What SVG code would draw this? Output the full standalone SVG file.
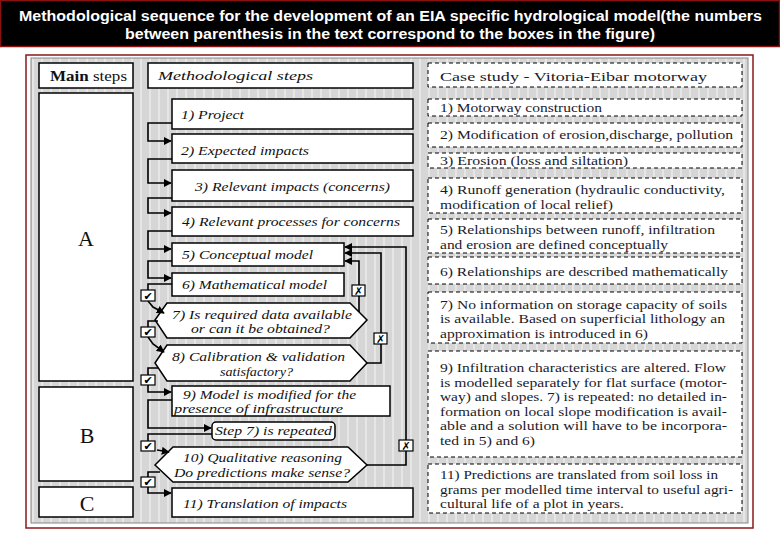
<svg xmlns="http://www.w3.org/2000/svg" width="780" height="540" viewBox="0 0 780 540">
<style>
.ttl{font-family:"Liberation Sans",Arial,sans-serif;font-weight:bold;font-size:14.5px;fill:#fff}
.box{fill:#fff;stroke:#000;stroke-width:1.5}
.dbox{fill:#fff;stroke:#000;stroke-width:1;stroke-dasharray:4 3}
.it{font-family:"Liberation Serif","Times New Roman",serif;font-style:italic;font-size:13px;fill:#111}
.rt{font-family:"Liberation Serif","Times New Roman",serif;font-size:13px;fill:#1a1a2a}
.big{font-family:"Liberation Serif","Times New Roman",serif;font-size:22px;fill:#111;text-anchor:middle}
.con{fill:none;stroke:#000;stroke-width:1.6}
.cb{fill:#fff;stroke:#000;stroke-width:1.2}
.mk{font-family:"DejaVu Sans",sans-serif;font-size:11px;font-weight:bold;fill:#000;text-anchor:middle}
</style>
<defs>
<marker id="ah" viewBox="0 0 10 10" refX="9" refY="5" markerWidth="8" markerHeight="8" markerUnits="userSpaceOnUse" orient="auto"><path d="M0,0 L10,5 L0,10 Z" fill="#000"/></marker>
<pattern id="stripes" width="9" height="40" patternUnits="userSpaceOnUse"><rect width="9" height="40" fill="#d6d6d6"/><rect x="5" width="2" height="40" fill="#e6e6e6"/></pattern>
</defs>
<rect width="780" height="540" fill="#fff"/>
<g id="title">
<rect x="0.5" y="0.5" width="779" height="46" fill="#000" stroke="#8b1010" stroke-width="1.5"/>
<text class="ttl" x="19" y="21" textLength="743" lengthAdjust="spacingAndGlyphs">Methodological sequence for the development of an EIA specific hydrological model(the numbers</text>
<text class="ttl" x="125" y="39" textLength="530" lengthAdjust="spacingAndGlyphs">between parenthesis in the text correspond to the boxes in the figure)</text>
</g>
<g id="panel">
<rect x="26" y="55" width="727" height="473" fill="#fff" stroke="#8b1a1a" stroke-width="1.5"/>
<rect x="31" y="58" width="717" height="465" fill="url(#stripes)" stroke="#888" stroke-width="1"/>
</g>
<g id="main-steps">
<rect class="box" x="39" y="63" width="94" height="25"/>
<text x="50" y="81" font-family="Liberation Serif,serif" font-size="15" fill="#111" textLength="77" lengthAdjust="spacingAndGlyphs"><tspan font-weight="bold">Main</tspan> steps</text>
</g>
<g id="step-A"><rect class="box" x="39" y="93" width="94" height="288"/><text class="big" x="86" y="246">A</text></g>
<g id="step-B"><rect class="box" x="39" y="387" width="94" height="94"/><text class="big" x="87" y="443">B</text></g>
<g id="step-C"><rect class="box" x="39" y="487" width="94" height="30"/><text class="big" x="87" y="511">C</text></g>
<g id="meth-header"><rect class="box" x="148" y="63" width="265" height="25"/><text class="it" x="158" y="80" font-size="15" textLength="155" lengthAdjust="spacingAndGlyphs">Methodological steps</text></g>
<g id="m1"><rect class="box" x="172" y="99" width="241" height="30"/><text class="it" x="181" y="119" textLength="63" lengthAdjust="spacingAndGlyphs">1) Project</text></g>
<g id="m2"><rect class="box" x="172" y="134" width="241" height="29"/><text class="it" x="181" y="155" textLength="128" lengthAdjust="spacingAndGlyphs">2) Expected impacts</text></g>
<g id="m3"><rect class="box" x="172" y="170" width="241" height="31"/><text class="it" x="195" y="191" textLength="195" lengthAdjust="spacingAndGlyphs">3) Relevant impacts (concerns)</text></g>
<g id="m4"><rect class="box" x="172" y="207" width="241" height="29"/><text class="it" x="182" y="226" textLength="218" lengthAdjust="spacingAndGlyphs">4) Relevant processes for concerns</text></g>
<g id="m5"><rect class="box" x="172" y="243" width="172" height="23"/><text class="it" x="182" y="259" textLength="131" lengthAdjust="spacingAndGlyphs">5) Conceptual model</text></g>
<g id="m6"><rect class="box" x="172" y="273" width="172" height="23"/><text class="it" x="182" y="289" textLength="145" lengthAdjust="spacingAndGlyphs">6) Mathematical model</text></g>
<g id="m7"><polygon class="box" points="155,320 167,303 350,303 367,320 350,338 167,338"/><text class="it" x="172" y="319" textLength="180" lengthAdjust="spacingAndGlyphs">7) Is required data available</text><text class="it" x="191" y="333" textLength="139" lengthAdjust="spacingAndGlyphs">or can it be obtained?</text></g>
<g id="m8"><polygon class="box" points="155,363 167,345 350,345 367,363 350,381 167,381"/><text class="it" x="172" y="361" textLength="173" lengthAdjust="spacingAndGlyphs">8) Calibration &amp; validation</text><text class="it" x="220" y="376" textLength="73" lengthAdjust="spacingAndGlyphs">satisfactory?</text></g>
<g id="m9"><rect class="box" x="172" y="386" width="218" height="30"/><text class="it" x="183" y="399" textLength="173" lengthAdjust="spacingAndGlyphs">9) Model is modified for the</text><text class="it" x="174" y="413" textLength="169" lengthAdjust="spacingAndGlyphs">presence of infrastructure</text></g>
<g id="m9b"><rect class="box" x="212" y="422" width="123" height="18" rx="4"/><text class="it" x="215" y="435" textLength="117" lengthAdjust="spacingAndGlyphs">Step 7) is repeated</text></g>
<g id="m10"><polygon class="box" points="155,465 173,447 348,447 367,465 348,482 173,482"/><text class="it" x="183" y="462" textLength="159" lengthAdjust="spacingAndGlyphs">10) Qualitative reasoning</text><text class="it" x="174" y="477" textLength="176" lengthAdjust="spacingAndGlyphs">Do predictions make sense?</text></g>
<g id="m11"><rect class="box" x="172" y="488" width="241" height="29"/><text class="it" x="183" y="508" textLength="164" lengthAdjust="spacingAndGlyphs">11) Translation of impacts</text></g>
<g id="connectors">
<path class="con" d="M172,123 H148 V141 H171" marker-end="url(#ah)"/>
<path class="con" d="M172,159 H148 V183 H171" marker-end="url(#ah)"/>
<path class="con" d="M172,198 H148 V213 H171" marker-end="url(#ah)"/>
<path class="con" d="M172,231 H148 V249 H171" marker-end="url(#ah)"/>
<path class="con" d="M172,261 H148 V278 H171" marker-end="url(#ah)"/>
<path class="con" d="M172,284 H148 V290" stroke="#777"/>
<path class="con" d="M148,301 L153,307 L164,313" marker-end="url(#ah)"/>
<path class="con" d="M158,321 H148 V327"/>
<path class="con" d="M148,337 L153,344 L164,352" marker-end="url(#ah)"/>
<path class="con" d="M158,368 H148 V375"/>
<path class="con" d="M148,385 V392 H171" marker-end="url(#ah)"/>
<path class="con" d="M172,400 H148 V428 H211" marker-end="url(#ah)"/>
<path class="con" d="M212,434 H148 V441"/>
<path class="con" d="M157,450 L169,452" marker-end="url(#ah)"/>
<path class="con" d="M160,472 H148 V477"/>
<path class="con" d="M148,487 V493 H171" marker-end="url(#ah)"/>
<path class="con" d="M359,312 V261 H345" marker-end="url(#ah)"/>
<path class="con" d="M367,363 H381 V253 H345" marker-end="url(#ah)"/>
<path class="con" d="M367,465 H406 V247 H345" marker-end="url(#ah)"/>
</g>
<g id="checks">
<rect class="cb" x="141" y="290" width="14" height="11"/><text class="mk" x="148" y="300">✔</text>
<rect class="cb" x="141" y="327" width="14" height="10"/><text class="mk" x="148" y="336">✔</text>
<rect class="cb" x="141" y="375" width="14" height="10"/><text class="mk" x="148" y="384">✔</text>
<rect class="cb" x="141" y="441" width="14" height="10"/><text class="mk" x="148" y="450">✔</text>
<rect class="cb" x="141" y="477" width="14" height="10"/><text class="mk" x="148" y="486">✔</text>
<rect class="cb" x="352" y="285" width="13" height="11"/><text class="mk" x="358.5" y="295">✗</text>
<rect class="cb" x="374" y="333" width="13" height="11"/><text class="mk" x="380.5" y="343">✗</text>
<rect class="cb" x="399" y="440" width="14" height="11"/><text class="mk" x="406" y="450">✗</text>
</g>
<g id="cs-header"><rect class="dbox" x="428" y="63" width="314" height="24"/><text class="rt" x="440" y="81" font-size="16" textLength="267" lengthAdjust="spacingAndGlyphs">Case study - Vitoria-Eibar motorway</text></g>
<g id="c1"><rect class="dbox" x="428" y="99" width="314" height="17"/><text class="rt" x="440" y="112" textLength="162" lengthAdjust="spacingAndGlyphs">1) Motorway construction</text></g>
<g id="c2"><rect class="dbox" x="428" y="123" width="314" height="24"/><text class="rt" x="440" y="139" textLength="293" lengthAdjust="spacingAndGlyphs">2) Modification of erosion,discharge, pollution</text></g>
<g id="c3"><rect class="dbox" x="428" y="153" width="314" height="15"/><text class="rt" x="440" y="165" textLength="188" lengthAdjust="spacingAndGlyphs">3) Erosion (loss and siltation)</text></g>
<g id="c4"><rect class="dbox" x="428" y="178" width="314" height="35"/><text class="rt" x="440" y="194" textLength="285" lengthAdjust="spacingAndGlyphs">4) Runoff generation (hydraulic conductivity,</text><text class="rt" x="440" y="209" textLength="173" lengthAdjust="spacingAndGlyphs">modification of local relief)</text></g>
<g id="c5"><rect class="dbox" x="428" y="219" width="314" height="34"/><text class="rt" x="440" y="234" textLength="275" lengthAdjust="spacingAndGlyphs">5) Relationships between runoff, infiltration</text><text class="rt" x="440" y="249" textLength="228" lengthAdjust="spacingAndGlyphs">and erosion are defined conceptually</text></g>
<g id="c6"><rect class="dbox" x="428" y="257" width="314" height="27"/><text class="rt" x="440" y="276" textLength="288" lengthAdjust="spacingAndGlyphs">6) Relationships are described mathematically</text></g>
<g id="c7"><rect class="dbox" x="428" y="292" width="314" height="51"/><text class="rt" x="440" y="309" textLength="287" lengthAdjust="spacingAndGlyphs">7) No information on storage capacity of soils</text><text class="rt" x="440" y="323" textLength="285" lengthAdjust="spacingAndGlyphs">is available. Based on superficial lithology an</text><text class="rt" x="440" y="338" textLength="208" lengthAdjust="spacingAndGlyphs">approximation is introduced in 6)</text></g>
<g id="c9"><rect class="dbox" x="428" y="351" width="314" height="106"/>
<text class="rt" x="440" y="372" textLength="286" lengthAdjust="spacingAndGlyphs">9) Infiltration characteristics are altered. Flow</text>
<text class="rt" x="440" y="386.5" textLength="287" lengthAdjust="spacingAndGlyphs">is modelled separately for flat surface (motor-</text>
<text class="rt" x="440" y="401" textLength="287" lengthAdjust="spacingAndGlyphs">way) and slopes. 7) is repeated: no detailed in-</text>
<text class="rt" x="440" y="415.5" textLength="287" lengthAdjust="spacingAndGlyphs">formation on local slope modification is avail-</text>
<text class="rt" x="440" y="430" textLength="287" lengthAdjust="spacingAndGlyphs">able and a solution will have to be incorpora-</text>
<text class="rt" x="440" y="444.5" textLength="95" lengthAdjust="spacingAndGlyphs">ted in 5) and 6)</text></g>
<g id="c11"><rect class="dbox" x="428" y="464" width="314" height="49"/>
<text class="rt" x="440" y="479" textLength="278" lengthAdjust="spacingAndGlyphs">11) Predictions are translated from soil loss in</text>
<text class="rt" x="440" y="493.5" textLength="293" lengthAdjust="spacingAndGlyphs">grams per modelled time interval to useful agri-</text>
<text class="rt" x="440" y="508" textLength="184" lengthAdjust="spacingAndGlyphs">cultural life of a plot in years.</text></g>
</svg>
